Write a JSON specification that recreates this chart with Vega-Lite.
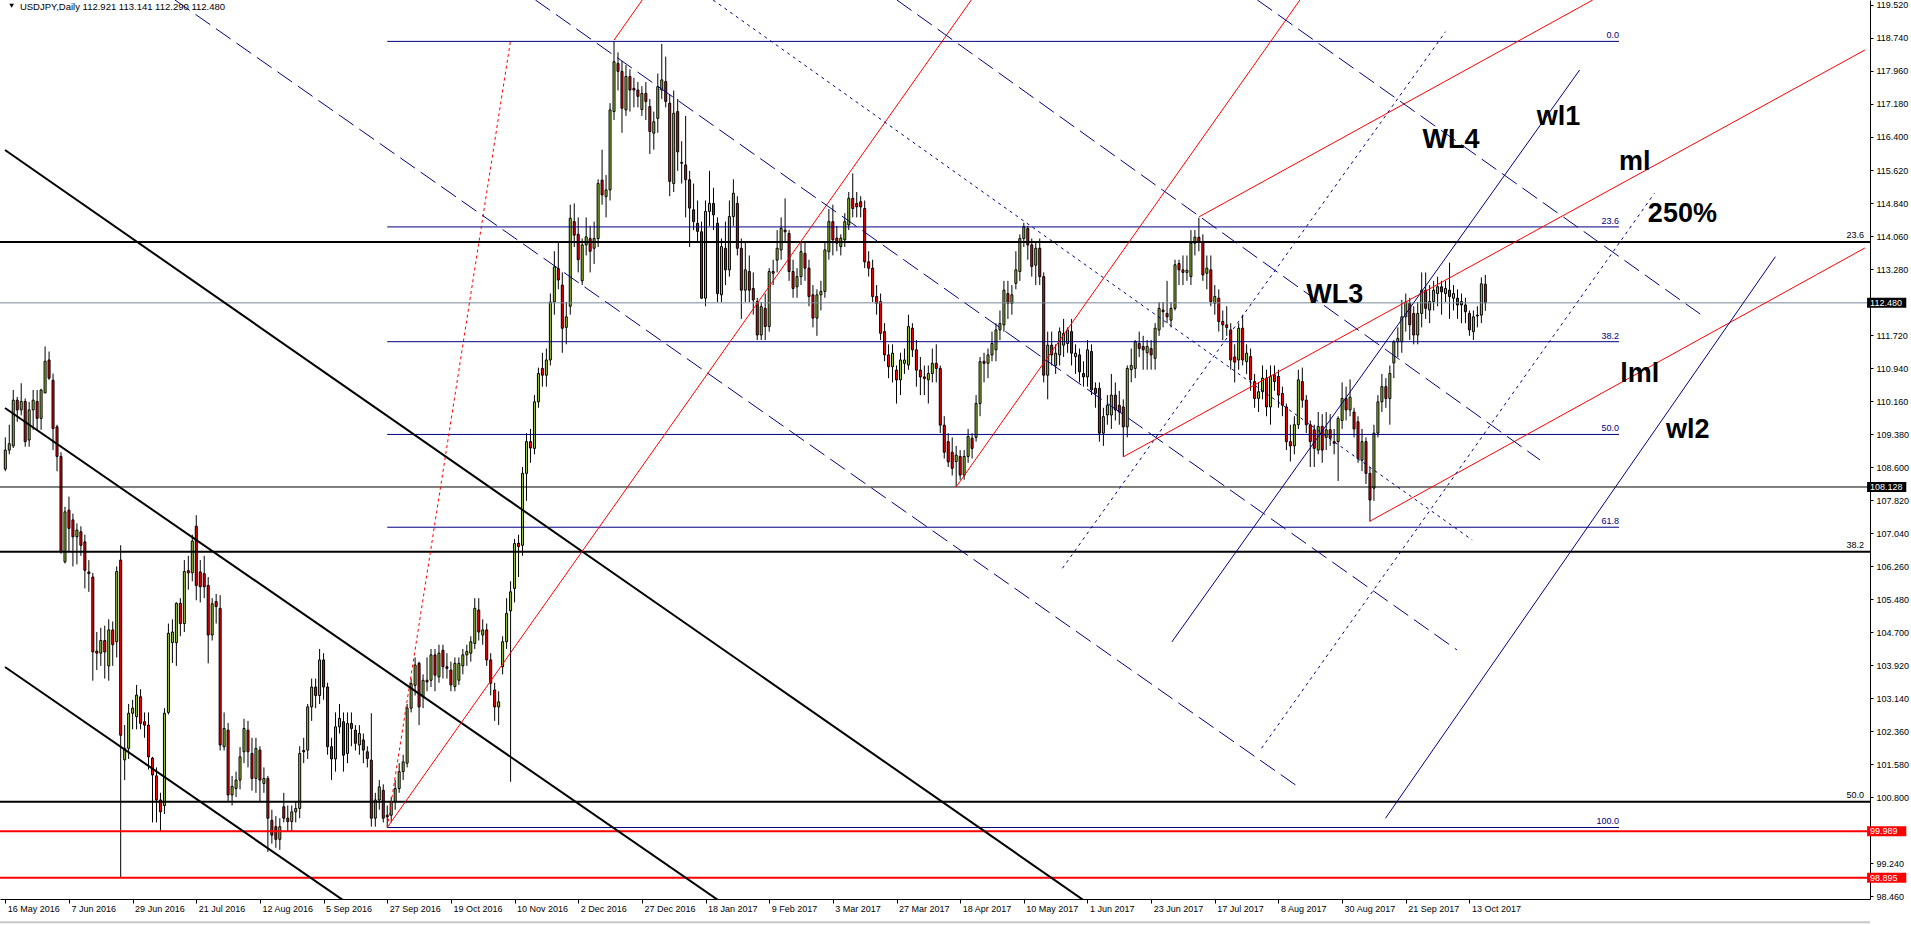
{
"$schema":"https://vega.github.io/schema/vega-lite/v6.json",
"width":1870,"height":899,
"autosize":{"type":"none"},
"padding":{"left":0,"top":0,"right":41,"bottom":26},
"background":"white",
"view":{"stroke":null},
"config":{"font":"Liberation Sans","axis":{"grid":false,"labelOverlap":false,"labelBound":false,"labelFlush":false}},
"datasets":{
"candles":[
{"i":0,"o":108.55,"h":109.3,"l":108.5,"c":109.0},
{"i":1,"o":109.0,"h":109.6,"l":108.9,"c":109.15},
{"i":2,"o":109.1,"h":110.42,"l":109.05,"c":110.18},
{"i":3,"o":110.18,"h":110.26,"l":109.67,"c":109.95},
{"i":4,"o":109.95,"h":110.58,"l":109.82,"c":110.15},
{"i":5,"o":110.15,"h":110.22,"l":109.08,"c":109.2},
{"i":6,"o":109.24,"h":110.14,"l":109.08,"c":109.95},
{"i":7,"o":109.95,"h":110.42,"l":109.48,"c":110.18},
{"i":8,"o":110.15,"h":110.42,"l":109.48,"c":109.75},
{"i":9,"o":109.75,"h":110.45,"l":109.48,"c":110.42},
{"i":10,"o":110.35,"h":111.45,"l":110.35,"c":111.1},
{"i":11,"o":111.13,"h":111.33,"l":110.66,"c":110.7},
{"i":12,"o":110.65,"h":110.81,"l":109.0,"c":109.51},
{"i":13,"o":109.55,"h":109.6,"l":108.5,"c":108.85},
{"i":14,"o":108.85,"h":108.95,"l":106.55,"c":106.6},
{"i":15,"o":106.36,"h":107.66,"l":106.32,"c":107.54},
{"i":16,"o":107.58,"h":107.9,"l":106.6,"c":107.15},
{"i":17,"o":107.35,"h":107.5,"l":106.25,"c":106.95},
{"i":18,"o":106.95,"h":107.27,"l":106.3,"c":107.11},
{"i":19,"o":107.07,"h":107.2,"l":106.5,"c":106.75},
{"i":20,"o":106.83,"h":107.0,"l":105.73,"c":106.16},
{"i":21,"o":106.12,"h":106.4,"l":105.65,"c":106.08},
{"i":22,"o":106.0,"h":106.1,"l":103.55,"c":104.23},
{"i":23,"o":104.25,"h":104.7,"l":103.8,"c":104.2},
{"i":24,"o":104.2,"h":104.8,"l":103.9,"c":104.5},
{"i":25,"o":104.5,"h":104.85,"l":103.6,"c":104.23},
{"i":26,"o":103.9,"h":105.0,"l":103.55,"c":104.75},
{"i":27,"o":104.75,"h":104.95,"l":103.9,"c":104.4},
{"i":28,"o":104.47,"h":106.25,"l":104.1,"c":106.13},
{"i":29,"o":106.4,"h":106.75,"l":98.9,"c":102.26},
{"i":30,"o":101.68,"h":102.5,"l":101.2,"c":101.95},
{"i":31,"o":101.95,"h":103.0,"l":101.7,"c":102.78},
{"i":32,"o":102.78,"h":103.1,"l":102.4,"c":102.9},
{"i":33,"o":102.7,"h":103.45,"l":102.4,"c":103.21},
{"i":34,"o":103.17,"h":103.35,"l":102.4,"c":102.54},
{"i":35,"o":102.58,"h":102.8,"l":102.2,"c":102.5},
{"i":36,"o":102.5,"h":102.8,"l":101.45,"c":101.75},
{"i":37,"o":101.72,"h":101.75,"l":100.2,"c":101.32},
{"i":38,"o":101.3,"h":101.5,"l":100.2,"c":100.73},
{"i":39,"o":100.73,"h":100.9,"l":99.98,"c":100.45},
{"i":40,"o":100.6,"h":102.9,"l":100.4,"c":102.78},
{"i":41,"o":102.8,"h":104.9,"l":102.75,"c":104.67},
{"i":42,"o":104.45,"h":105.0,"l":103.97,"c":104.7},
{"i":43,"o":104.45,"h":105.4,"l":103.9,"c":105.38},
{"i":44,"o":105.38,"h":105.5,"l":104.6,"c":104.9},
{"i":45,"o":104.9,"h":106.4,"l":104.7,"c":106.13},
{"i":46,"o":106.15,"h":106.5,"l":105.7,"c":106.1},
{"i":47,"o":106.1,"h":107.0,"l":105.9,"c":106.85},
{"i":48,"o":107.2,"h":107.46,"l":105.45,"c":105.8},
{"i":49,"o":106.12,"h":106.4,"l":105.4,"c":105.77},
{"i":50,"o":106.08,"h":106.5,"l":105.5,"c":105.77},
{"i":51,"o":105.8,"h":106.0,"l":103.96,"c":104.63},
{"i":52,"o":104.63,"h":105.5,"l":104.5,"c":105.37},
{"i":53,"o":105.42,"h":105.6,"l":104.9,"c":105.3},
{"i":54,"o":105.26,"h":105.57,"l":101.9,"c":102.03},
{"i":55,"o":101.99,"h":102.8,"l":101.9,"c":102.42},
{"i":56,"o":102.38,"h":102.55,"l":100.7,"c":100.85},
{"i":57,"o":100.85,"h":101.3,"l":100.6,"c":101.05},
{"i":58,"o":101.0,"h":101.4,"l":100.8,"c":101.2},
{"i":59,"o":101.2,"h":101.98,"l":100.98,"c":101.75},
{"i":60,"o":101.87,"h":102.65,"l":101.6,"c":102.42},
{"i":61,"o":102.38,"h":102.6,"l":101.5,"c":101.87},
{"i":62,"o":101.83,"h":102.2,"l":100.95,"c":101.24},
{"i":63,"o":101.24,"h":102.2,"l":100.9,"c":101.95},
{"i":64,"o":101.91,"h":102.0,"l":100.7,"c":101.2},
{"i":65,"o":101.12,"h":101.5,"l":100.9,"c":101.24},
{"i":66,"o":101.24,"h":101.3,"l":99.5,"c":100.3},
{"i":67,"o":100.25,"h":100.5,"l":99.7,"c":99.9},
{"i":68,"o":100.1,"h":100.35,"l":99.6,"c":99.8},
{"i":69,"o":99.8,"h":100.3,"l":99.55,"c":100.1},
{"i":70,"o":100.57,"h":100.9,"l":100.2,"c":100.3},
{"i":71,"o":100.3,"h":100.6,"l":100.0,"c":100.22},
{"i":72,"o":100.22,"h":100.6,"l":100.0,"c":100.45},
{"i":73,"o":100.45,"h":100.7,"l":100.2,"c":100.53},
{"i":74,"o":100.53,"h":102.0,"l":100.3,"c":101.83},
{"i":75,"o":101.9,"h":102.2,"l":101.6,"c":101.87},
{"i":76,"o":101.91,"h":103.0,"l":101.7,"c":102.93},
{"i":77,"o":102.93,"h":103.6,"l":102.6,"c":103.4},
{"i":78,"o":103.4,"h":103.6,"l":102.9,"c":103.2},
{"i":79,"o":103.2,"h":104.3,"l":103.0,"c":104.04},
{"i":80,"o":104.04,"h":104.2,"l":103.1,"c":103.4},
{"i":81,"o":103.4,"h":103.5,"l":101.8,"c":101.99},
{"i":82,"o":101.99,"h":102.2,"l":101.2,"c":101.7},
{"i":83,"o":101.7,"h":102.8,"l":101.4,"c":102.46},
{"i":84,"o":102.46,"h":103.0,"l":102.3,"c":102.66},
{"i":85,"o":102.58,"h":102.8,"l":101.4,"c":101.79},
{"i":86,"o":101.83,"h":102.8,"l":101.6,"c":102.54},
{"i":87,"o":102.54,"h":102.8,"l":102.0,"c":102.42},
{"i":88,"o":102.38,"h":102.5,"l":101.9,"c":102.07},
{"i":89,"o":102.03,"h":102.5,"l":101.8,"c":102.3},
{"i":90,"o":102.15,"h":102.3,"l":101.6,"c":101.91},
{"i":91,"o":101.87,"h":102.0,"l":101.5,"c":101.71},
{"i":92,"o":101.67,"h":102.78,"l":100.1,"c":100.3},
{"i":93,"o":100.3,"h":100.9,"l":100.1,"c":100.73},
{"i":94,"o":100.73,"h":101.2,"l":100.5,"c":101.04},
{"i":95,"o":100.96,"h":101.1,"l":100.2,"c":100.3},
{"i":96,"o":100.37,"h":100.6,"l":100.08,"c":100.33},
{"i":97,"o":100.37,"h":100.8,"l":100.2,"c":100.69},
{"i":98,"o":100.69,"h":101.2,"l":100.5,"c":101.0},
{"i":99,"o":101.0,"h":101.6,"l":100.9,"c":101.4},
{"i":100,"o":101.4,"h":101.8,"l":101.2,"c":101.63},
{"i":101,"o":101.6,"h":103.0,"l":101.5,"c":102.9},
{"i":102,"o":102.9,"h":103.6,"l":102.8,"c":103.48},
{"i":103,"o":103.44,"h":104.1,"l":103.2,"c":103.92},
{"i":104,"o":103.96,"h":104.0,"l":102.5,"c":102.93},
{"i":105,"o":103.17,"h":103.7,"l":102.9,"c":103.56},
{"i":106,"o":103.56,"h":104.1,"l":103.3,"c":103.52},
{"i":107,"o":103.56,"h":104.3,"l":103.4,"c":104.16},
{"i":108,"o":104.16,"h":104.3,"l":103.3,"c":103.68},
{"i":109,"o":103.64,"h":104.4,"l":103.5,"c":104.2},
{"i":110,"o":104.27,"h":104.4,"l":103.6,"c":103.88},
{"i":111,"o":103.88,"h":104.2,"l":103.6,"c":103.84},
{"i":112,"o":103.8,"h":104.0,"l":103.3,"c":103.45},
{"i":113,"o":103.41,"h":104.1,"l":103.3,"c":103.96},
{"i":114,"o":103.56,"h":104.1,"l":103.45,"c":103.96},
{"i":115,"o":103.9,"h":104.3,"l":103.7,"c":104.16},
{"i":116,"o":104.16,"h":104.4,"l":103.9,"c":104.24},
{"i":117,"o":104.2,"h":104.6,"l":104.0,"c":104.47},
{"i":118,"o":104.43,"h":105.5,"l":104.3,"c":105.26},
{"i":119,"o":105.22,"h":105.5,"l":104.5,"c":104.7},
{"i":120,"o":104.63,"h":105.0,"l":104.4,"c":104.75},
{"i":121,"o":104.75,"h":104.9,"l":103.9,"c":104.04},
{"i":122,"o":104.04,"h":104.2,"l":103.2,"c":103.49},
{"i":123,"o":103.33,"h":103.5,"l":102.6,"c":102.93},
{"i":124,"o":102.93,"h":103.3,"l":102.5,"c":103.05},
{"i":125,"o":103.88,"h":104.6,"l":103.7,"c":104.47},
{"i":126,"o":104.47,"h":105.5,"l":104.3,"c":105.14},
{"i":127,"o":105.2,"h":105.9,"l":101.16,"c":105.65},
{"i":128,"o":105.73,"h":106.9,"l":105.4,"c":106.79},
{"i":129,"o":106.8,"h":107.0,"l":106.0,"c":106.72},
{"i":130,"o":106.75,"h":108.6,"l":106.5,"c":108.45},
{"i":131,"o":108.45,"h":109.4,"l":107.8,"c":109.2},
{"i":132,"o":109.2,"h":109.5,"l":108.7,"c":109.05},
{"i":133,"o":109.04,"h":110.3,"l":108.9,"c":110.14},
{"i":134,"o":110.14,"h":110.95,"l":110.0,"c":110.81},
{"i":135,"o":110.93,"h":111.3,"l":110.5,"c":110.77},
{"i":136,"o":110.77,"h":111.4,"l":110.5,"c":111.13},
{"i":137,"o":111.13,"h":112.7,"l":111.0,"c":112.5},
{"i":138,"o":112.5,"h":113.7,"l":112.2,"c":113.33},
{"i":139,"o":113.29,"h":113.9,"l":112.8,"c":113.02},
{"i":140,"o":112.9,"h":113.2,"l":111.3,"c":111.88},
{"i":141,"o":111.9,"h":112.5,"l":111.5,"c":112.15},
{"i":142,"o":112.4,"h":114.8,"l":112.2,"c":114.48},
{"i":143,"o":114.4,"h":114.83,"l":113.8,"c":114.08},
{"i":144,"o":114.1,"h":114.5,"l":113.2,"c":113.5},
{"i":145,"o":113.0,"h":114.0,"l":112.9,"c":113.85},
{"i":146,"o":113.85,"h":114.5,"l":113.6,"c":114.04},
{"i":147,"o":114.0,"h":114.3,"l":113.2,"c":113.7},
{"i":148,"o":113.77,"h":114.4,"l":113.4,"c":114.0},
{"i":149,"o":114.0,"h":115.4,"l":113.8,"c":115.3},
{"i":150,"o":115.38,"h":116.1,"l":114.8,"c":115.03},
{"i":151,"o":114.99,"h":115.5,"l":114.5,"c":115.15},
{"i":152,"o":115.15,"h":117.2,"l":114.9,"c":117.04},
{"i":153,"o":117.0,"h":118.66,"l":116.8,"c":118.18},
{"i":154,"o":118.14,"h":118.4,"l":117.5,"c":117.95},
{"i":155,"o":117.95,"h":118.2,"l":116.5,"c":117.08},
{"i":156,"o":117.04,"h":118.1,"l":116.9,"c":117.83},
{"i":157,"o":117.83,"h":118.0,"l":117.0,"c":117.51},
{"i":158,"o":117.55,"h":117.8,"l":117.1,"c":117.51},
{"i":159,"o":117.51,"h":117.7,"l":117.1,"c":117.36},
{"i":160,"o":117.05,"h":117.6,"l":116.9,"c":117.43},
{"i":161,"o":117.43,"h":117.7,"l":116.8,"c":117.24},
{"i":162,"o":117.12,"h":117.3,"l":116.0,"c":116.53},
{"i":163,"o":116.49,"h":117.0,"l":116.1,"c":116.76},
{"i":164,"o":116.84,"h":117.9,"l":116.5,"c":117.59},
{"i":165,"o":117.51,"h":118.6,"l":117.3,"c":117.75},
{"i":166,"o":117.71,"h":118.3,"l":117.1,"c":117.24},
{"i":167,"o":117.2,"h":117.4,"l":115.0,"c":115.35},
{"i":168,"o":115.3,"h":117.5,"l":115.1,"c":116.96},
{"i":169,"o":117.0,"h":117.3,"l":115.6,"c":116.05},
{"i":170,"o":115.8,"h":116.3,"l":115.3,"c":115.78},
{"i":171,"o":115.74,"h":116.9,"l":114.5,"c":115.39},
{"i":172,"o":115.39,"h":115.6,"l":113.8,"c":114.72},
{"i":173,"o":114.68,"h":115.3,"l":114.2,"c":114.4},
{"i":174,"o":114.36,"h":114.9,"l":113.9,"c":114.17},
{"i":175,"o":114.16,"h":114.4,"l":112.57,"c":112.59},
{"i":176,"o":112.59,"h":114.9,"l":112.4,"c":114.64},
{"i":177,"o":114.64,"h":115.6,"l":114.3,"c":114.83},
{"i":178,"o":114.83,"h":115.2,"l":114.2,"c":114.56},
{"i":179,"o":114.36,"h":114.5,"l":112.5,"c":112.7},
{"i":180,"o":112.67,"h":114.0,"l":112.5,"c":113.81},
{"i":181,"o":113.77,"h":114.4,"l":112.9,"c":113.26},
{"i":182,"o":113.26,"h":114.9,"l":113.1,"c":114.52},
{"i":183,"o":114.52,"h":115.4,"l":114.3,"c":115.07},
{"i":184,"o":114.83,"h":115.0,"l":113.6,"c":113.77},
{"i":185,"o":113.77,"h":114.0,"l":112.1,"c":112.78},
{"i":186,"o":112.78,"h":113.9,"l":112.5,"c":113.26},
{"i":187,"o":113.22,"h":113.6,"l":112.5,"c":112.78},
{"i":188,"o":112.82,"h":113.2,"l":112.2,"c":112.55},
{"i":189,"o":112.51,"h":112.6,"l":111.6,"c":111.72},
{"i":190,"o":111.72,"h":112.5,"l":111.6,"c":112.39},
{"i":191,"o":112.35,"h":112.7,"l":111.6,"c":111.92},
{"i":192,"o":111.92,"h":113.3,"l":111.8,"c":113.22},
{"i":193,"o":113.22,"h":113.5,"l":112.9,"c":113.18},
{"i":194,"o":113.49,"h":114.2,"l":113.2,"c":113.77},
{"i":195,"o":113.73,"h":114.5,"l":113.5,"c":114.24},
{"i":196,"o":114.2,"h":114.95,"l":113.9,"c":114.16},
{"i":197,"o":114.12,"h":114.2,"l":113.0,"c":113.22},
{"i":198,"o":113.22,"h":113.5,"l":112.6,"c":112.82},
{"i":199,"o":112.86,"h":113.3,"l":112.6,"c":113.1},
{"i":200,"o":113.1,"h":113.9,"l":112.9,"c":113.69},
{"i":201,"o":113.65,"h":113.9,"l":113.0,"c":113.3},
{"i":202,"o":113.3,"h":113.5,"l":112.4,"c":112.63},
{"i":203,"o":112.67,"h":112.9,"l":111.9,"c":112.12},
{"i":204,"o":112.12,"h":112.8,"l":111.7,"c":112.67},
{"i":205,"o":112.67,"h":113.0,"l":112.3,"c":112.75},
{"i":206,"o":112.75,"h":113.9,"l":112.6,"c":113.73},
{"i":207,"o":113.69,"h":114.7,"l":113.5,"c":114.4},
{"i":208,"o":114.4,"h":114.8,"l":113.6,"c":113.97},
{"i":209,"o":114.01,"h":114.3,"l":113.7,"c":113.89},
{"i":210,"o":113.81,"h":114.1,"l":113.6,"c":114.01},
{"i":211,"o":113.97,"h":114.6,"l":113.8,"c":114.4},
{"i":212,"o":114.32,"h":115.1,"l":114.2,"c":114.95},
{"i":213,"o":114.95,"h":115.54,"l":114.5,"c":114.71},
{"i":214,"o":114.83,"h":115.1,"l":114.5,"c":114.75},
{"i":215,"o":114.87,"h":115.0,"l":114.5,"c":114.75},
{"i":216,"o":114.71,"h":114.9,"l":113.3,"c":113.45},
{"i":217,"o":113.45,"h":113.7,"l":113.1,"c":113.3},
{"i":218,"o":113.3,"h":113.5,"l":112.5,"c":112.63},
{"i":219,"o":112.63,"h":112.9,"l":112.2,"c":112.47},
{"i":220,"o":112.51,"h":112.7,"l":111.6,"c":111.76},
{"i":221,"o":111.8,"h":112.0,"l":111.1,"c":111.25},
{"i":222,"o":111.25,"h":111.5,"l":110.7,"c":110.97},
{"i":223,"o":110.97,"h":111.5,"l":110.6,"c":111.29},
{"i":224,"o":110.89,"h":111.0,"l":110.1,"c":110.66},
{"i":225,"o":110.66,"h":111.3,"l":110.3,"c":111.13},
{"i":226,"o":111.05,"h":111.4,"l":110.8,"c":111.13},
{"i":227,"o":111.01,"h":112.2,"l":110.9,"c":111.92},
{"i":228,"o":111.88,"h":112.0,"l":111.2,"c":111.37},
{"i":229,"o":111.37,"h":111.6,"l":110.5,"c":110.89},
{"i":230,"o":110.89,"h":111.2,"l":110.3,"c":110.73},
{"i":231,"o":110.73,"h":111.0,"l":110.3,"c":110.69},
{"i":232,"o":110.66,"h":111.0,"l":110.1,"c":110.81},
{"i":233,"o":110.81,"h":111.4,"l":110.6,"c":111.05},
{"i":234,"o":111.05,"h":111.5,"l":110.6,"c":110.93},
{"i":235,"o":110.93,"h":111.0,"l":109.4,"c":109.59},
{"i":236,"o":109.59,"h":109.8,"l":108.8,"c":108.95},
{"i":237,"o":109.2,"h":109.4,"l":108.6,"c":108.72},
{"i":238,"o":108.95,"h":109.3,"l":108.4,"c":108.57},
{"i":239,"o":108.73,"h":109.1,"l":108.13,"c":108.88},
{"i":240,"o":108.85,"h":109.0,"l":108.3,"c":108.41},
{"i":241,"o":108.41,"h":109.0,"l":108.3,"c":108.85},
{"i":242,"o":108.85,"h":109.5,"l":108.7,"c":109.32},
{"i":243,"o":109.28,"h":109.4,"l":108.8,"c":109.04},
{"i":244,"o":109.3,"h":110.3,"l":109.2,"c":110.1},
{"i":245,"o":110.1,"h":111.2,"l":109.8,"c":111.09},
{"i":246,"o":111.1,"h":111.3,"l":110.6,"c":111.05},
{"i":247,"o":111.05,"h":111.4,"l":110.7,"c":111.25},
{"i":248,"o":111.25,"h":111.8,"l":111.1,"c":111.52},
{"i":249,"o":111.37,"h":112.0,"l":111.1,"c":111.84},
{"i":250,"o":111.84,"h":112.3,"l":111.6,"c":111.99},
{"i":251,"o":111.96,"h":113.0,"l":111.8,"c":112.78},
{"i":252,"o":112.7,"h":113.0,"l":112.1,"c":112.47},
{"i":253,"o":112.47,"h":112.9,"l":112.2,"c":112.67},
{"i":254,"o":112.94,"h":113.7,"l":112.8,"c":113.26},
{"i":255,"o":113.22,"h":114.1,"l":113.0,"c":114.0},
{"i":256,"o":114.0,"h":114.37,"l":113.8,"c":114.28},
{"i":257,"o":114.24,"h":114.3,"l":113.5,"c":113.85},
{"i":258,"o":113.85,"h":114.0,"l":113.1,"c":113.34},
{"i":259,"o":113.37,"h":113.9,"l":112.9,"c":113.77},
{"i":260,"o":113.77,"h":114.0,"l":112.9,"c":113.1},
{"i":261,"o":113.1,"h":113.2,"l":110.6,"c":110.77},
{"i":262,"o":110.77,"h":111.8,"l":110.2,"c":111.48},
{"i":263,"o":111.48,"h":111.8,"l":111.0,"c":111.25},
{"i":264,"o":111.0,"h":111.5,"l":110.8,"c":111.29},
{"i":265,"o":111.25,"h":111.9,"l":111.0,"c":111.8},
{"i":266,"o":111.48,"h":112.1,"l":111.2,"c":111.76},
{"i":267,"o":111.52,"h":111.9,"l":111.3,"c":111.84},
{"i":268,"o":111.8,"h":112.1,"l":111.0,"c":111.29},
{"i":269,"o":111.21,"h":111.5,"l":110.8,"c":111.29},
{"i":270,"o":111.25,"h":111.4,"l":110.6,"c":110.85},
{"i":271,"o":110.81,"h":111.1,"l":110.5,"c":110.73},
{"i":272,"o":110.73,"h":111.6,"l":110.5,"c":111.37},
{"i":273,"o":111.33,"h":111.5,"l":110.3,"c":110.42},
{"i":274,"o":110.46,"h":110.6,"l":110.0,"c":110.34},
{"i":275,"o":110.46,"h":110.6,"l":109.2,"c":109.4},
{"i":276,"o":109.4,"h":110.0,"l":109.1,"c":109.79},
{"i":277,"o":109.83,"h":110.3,"l":109.6,"c":110.06},
{"i":278,"o":109.83,"h":110.8,"l":109.5,"c":110.3},
{"i":279,"o":110.3,"h":110.6,"l":109.7,"c":109.95},
{"i":280,"o":110.06,"h":110.4,"l":109.6,"c":109.9},
{"i":281,"o":110.02,"h":110.2,"l":108.84,"c":109.55},
{"i":282,"o":109.55,"h":111.0,"l":109.3,"c":110.93},
{"i":283,"o":110.9,"h":111.4,"l":110.6,"c":111.0},
{"i":284,"o":110.93,"h":111.6,"l":110.7,"c":111.56},
{"i":285,"o":111.52,"h":111.8,"l":111.2,"c":111.4},
{"i":286,"o":111.45,"h":111.7,"l":110.9,"c":111.37},
{"i":287,"o":111.3,"h":111.6,"l":110.9,"c":111.45},
{"i":288,"o":111.4,"h":111.6,"l":110.9,"c":111.25},
{"i":289,"o":111.17,"h":112.0,"l":110.9,"c":111.88},
{"i":290,"o":111.84,"h":112.5,"l":111.7,"c":112.35},
{"i":291,"o":112.31,"h":112.5,"l":111.9,"c":112.27},
{"i":292,"o":112.23,"h":113.0,"l":112.0,"c":112.15},
{"i":293,"o":112.07,"h":112.5,"l":111.9,"c":112.35},
{"i":294,"o":112.35,"h":113.5,"l":112.3,"c":113.38},
{"i":295,"o":113.41,"h":113.5,"l":112.9,"c":113.26},
{"i":296,"o":113.26,"h":113.6,"l":112.9,"c":113.2},
{"i":297,"o":113.2,"h":113.6,"l":113.0,"c":113.25},
{"i":298,"o":113.1,"h":114.2,"l":112.9,"c":113.89},
{"i":299,"o":113.89,"h":114.2,"l":113.6,"c":114.03},
{"i":300,"o":114.03,"h":114.49,"l":113.7,"c":113.93},
{"i":301,"o":113.93,"h":114.1,"l":113.0,"c":113.14},
{"i":302,"o":113.18,"h":113.6,"l":112.8,"c":113.3},
{"i":303,"o":113.26,"h":113.6,"l":112.4,"c":112.51},
{"i":304,"o":112.47,"h":112.9,"l":112.2,"c":112.63},
{"i":305,"o":112.59,"h":112.8,"l":111.8,"c":112.04},
{"i":306,"o":112.04,"h":112.3,"l":111.6,"c":111.96},
{"i":307,"o":111.96,"h":112.4,"l":111.7,"c":111.9},
{"i":308,"o":111.84,"h":112.0,"l":110.9,"c":111.13},
{"i":309,"o":111.2,"h":111.5,"l":110.6,"c":111.08},
{"i":310,"o":111.13,"h":112.0,"l":110.9,"c":111.88},
{"i":311,"o":111.88,"h":112.2,"l":111.0,"c":111.13},
{"i":312,"o":111.09,"h":111.5,"l":110.8,"c":111.29},
{"i":313,"o":111.21,"h":111.4,"l":110.4,"c":110.66},
{"i":314,"o":110.62,"h":110.8,"l":110.0,"c":110.22},
{"i":315,"o":110.22,"h":110.6,"l":109.9,"c":110.38},
{"i":316,"o":110.38,"h":111.0,"l":110.2,"c":110.7},
{"i":317,"o":110.7,"h":110.9,"l":109.8,"c":110.02},
{"i":318,"o":110.02,"h":111.0,"l":109.6,"c":110.74},
{"i":319,"o":110.78,"h":111.0,"l":110.4,"c":110.62},
{"i":320,"o":110.74,"h":110.9,"l":110.0,"c":110.3},
{"i":321,"o":110.34,"h":110.5,"l":109.8,"c":110.06},
{"i":322,"o":110.02,"h":110.1,"l":109.0,"c":109.2},
{"i":323,"o":109.2,"h":109.6,"l":108.73,"c":109.1},
{"i":324,"o":109.1,"h":109.8,"l":108.9,"c":109.6},
{"i":325,"o":109.6,"h":110.9,"l":109.5,"c":110.66},
{"i":326,"o":110.62,"h":110.95,"l":110.0,"c":110.18},
{"i":327,"o":110.18,"h":110.3,"l":109.4,"c":109.6},
{"i":328,"o":109.6,"h":109.7,"l":108.6,"c":109.2},
{"i":329,"o":109.48,"h":109.6,"l":108.6,"c":109.04},
{"i":330,"o":109.0,"h":109.9,"l":108.9,"c":109.56},
{"i":331,"o":109.56,"h":109.85,"l":108.7,"c":109.0},
{"i":332,"o":109.3,"h":109.9,"l":109.0,"c":109.48},
{"i":333,"o":109.48,"h":109.85,"l":109.1,"c":109.28},
{"i":334,"o":109.2,"h":109.5,"l":108.9,"c":109.16},
{"i":335,"o":109.2,"h":109.8,"l":108.27,"c":109.75},
{"i":336,"o":109.7,"h":110.6,"l":109.5,"c":110.22},
{"i":337,"o":110.22,"h":110.5,"l":109.7,"c":109.95},
{"i":338,"o":109.95,"h":110.67,"l":109.8,"c":110.25},
{"i":339,"o":109.9,"h":110.0,"l":109.3,"c":109.5},
{"i":340,"o":109.67,"h":109.8,"l":108.7,"c":108.8},
{"i":341,"o":108.76,"h":109.5,"l":108.5,"c":109.2},
{"i":342,"o":109.2,"h":109.3,"l":108.2,"c":108.45},
{"i":343,"o":108.45,"h":108.6,"l":107.31,"c":107.82},
{"i":344,"o":108.1,"h":109.6,"l":107.8,"c":109.4},
{"i":345,"o":109.4,"h":110.3,"l":109.3,"c":110.14},
{"i":346,"o":110.14,"h":110.8,"l":109.9,"c":110.5},
{"i":347,"o":110.5,"h":110.7,"l":110.0,"c":110.22},
{"i":348,"o":110.22,"h":111.0,"l":109.6,"c":110.81},
{"i":349,"o":111.06,"h":111.6,"l":110.7,"c":111.56},
{"i":350,"o":111.56,"h":111.9,"l":111.2,"c":111.64},
{"i":351,"o":111.56,"h":112.55,"l":111.3,"c":112.15},
{"i":352,"o":112.15,"h":112.7,"l":111.8,"c":112.5},
{"i":353,"o":112.47,"h":112.6,"l":111.6,"c":111.96},
{"i":354,"o":112.23,"h":112.4,"l":111.5,"c":111.72},
{"i":355,"o":111.72,"h":112.5,"l":111.5,"c":112.23},
{"i":356,"o":112.23,"h":113.2,"l":111.9,"c":112.78},
{"i":357,"o":112.78,"h":113.2,"l":112.1,"c":112.35},
{"i":358,"o":112.31,"h":112.9,"l":112.0,"c":112.51},
{"i":359,"o":112.51,"h":113.0,"l":112.3,"c":112.78},
{"i":360,"o":112.7,"h":113.1,"l":112.4,"c":112.86},
{"i":361,"o":112.86,"h":113.0,"l":112.2,"c":112.74},
{"i":362,"o":112.7,"h":113.0,"l":112.5,"c":112.82},
{"i":363,"o":112.78,"h":113.43,"l":112.1,"c":112.63},
{"i":364,"o":112.59,"h":112.9,"l":112.3,"c":112.7},
{"i":365,"o":112.59,"h":112.8,"l":112.1,"c":112.43},
{"i":366,"o":112.51,"h":112.7,"l":112.0,"c":112.43},
{"i":367,"o":112.43,"h":112.6,"l":112.0,"c":112.27},
{"i":368,"o":112.23,"h":112.3,"l":111.7,"c":111.84},
{"i":369,"o":111.8,"h":112.3,"l":111.6,"c":112.15},
{"i":370,"o":112.19,"h":112.4,"l":111.9,"c":112.17},
{"i":371,"o":112.19,"h":113.08,"l":112.0,"c":112.93},
{"i":372,"o":112.921,"h":113.141,"l":112.29,"c":112.48}
],
"tags":[
{"k":"bid","p":112.48,"t":"112.480"},
{"k":"line","p":108.128,"t":"108.128"},
{"k":"red","p":99.989,"t":"99.989"},
{"k":"red","p":98.895,"t":"98.895"}
],
"major":[
{"lvl":"23.6","p":113.918},
{"lvl":"38.2","p":106.599},
{"lvl":"50.0","p":100.69}
],
"fib":[
{"lvl":"0.0","p":118.66,"i1":96.0,"i2":405.6},
{"lvl":"23.6","p":114.275,"i1":96.0,"i2":405.6},
{"lvl":"38.2","p":111.562,"i1":96.0,"i2":405.6},
{"lvl":"50.0","p":109.37,"i1":96.0,"i2":405.6},
{"lvl":"61.8","p":107.177,"i1":96.0,"i2":405.6},
{"lvl":"100.0","p":100.08,"i1":96.0,"i2":405.6}
],
"seg":[
{"k":"chan","i1":-0.075,"p1":116.093,"i2":272.4,"p2":98.272},
{"k":"chan","i1":-0.075,"p1":109.995,"i2":182.4,"p2":98.154},
{"k":"chan","i1":-0.075,"p1":103.874,"i2":87.4,"p2":98.201},
{"k":"fibdiag","i1":96.0,"p1":100.08,"i2":126.95,"p2":118.66},
{"k":"red","i1":96.0,"p1":100.08,"i2":242.8,"p2":119.638},
{"k":"red","i1":153.0,"p1":118.69,"i2":160.1,"p2":119.638},
{"k":"red","i1":239.0,"p1":108.13,"i2":325.4,"p2":119.638},
{"k":"red","i1":300.0,"p1":114.51,"i2":399.0,"p2":119.638},
{"k":"red","i1":281.0,"p1":108.84,"i2":467.4,"p2":118.456},
{"k":"red","i1":343.0,"p1":107.32,"i2":467.4,"p2":113.777},
{"k":"wl","i1":293.2,"p1":104.465,"i2":395.7,"p2":117.984},
{"k":"wl","i1":346.9,"p1":100.298,"i2":444.9,"p2":113.571},
{"k":"dot","i1":265.7,"p1":106.206,"i2":362.0,"p2":118.889},
{"k":"dot","i1":315.75,"p1":101.952,"i2":414.5,"p2":115.07},
{"k":"dot","i1":177.9,"p1":119.638,"i2":368.7,"p2":106.875},
{"k":"dash","i1":42.65,"p1":119.638,"i2":324.9,"p2":101.045},
{"k":"dash","i1":133.25,"p1":119.638,"i2":364.9,"p2":104.275},
{"k":"dash","i1":224.1,"p1":119.638,"i2":385.75,"p2":108.766},
{"k":"dash","i1":314.7,"p1":119.638,"i2":427.4,"p2":112.122}
],
"notes":[
{"t":"WL4","i":356.2,"p":116.14},
{"t":"WL3","i":327.0,"p":112.477},
{"t":"wl1","i":384.9,"p":116.684},
{"t":"ml","i":405.6,"p":115.62},
{"t":"250%","i":412.85,"p":114.398},
{"t":"lml","i":405.9,"p":110.617},
{"t":"wl2","i":417.4,"p":109.279}
],
"head":[
{"t":"USDJPY,Daily  112.921 113.141 112.290 112.480","i":3.675,"p":119.40,"mi":1.6,"mp":119.50}
],
"frame":[
{"p":97.84}
]
},
"layer":[
{"data":{"name":"candles"},
 "mark":{"type":"rule","color":"black","strokeWidth":1},
 "encoding":{
  "x":{"field":"i","type":"quantitative","scale":{"domain":[-0.075,467.425],"nice":false,"zero":false},
   "axis":{"orient":"bottom","title":null,"grid":false,"tickCount":100,"values":[0,16,32,48,64,80,96,112,128,144,160,176,192,208,224,240,256,272,288,304,320,336,352,368],
    "labelExpr":"['16 May 2016','7 Jun 2016','29 Jun 2016','21 Jul 2016','12 Aug 2016','5 Sep 2016','27 Sep 2016','19 Oct 2016','10 Nov 2016','2 Dec 2016','27 Dec 2016','18 Jan 2017','9 Feb 2017','3 Mar 2017','27 Mar 2017','18 Apr 2017','10 May 2017','1 Jun 2017','23 Jun 2017','17 Jul 2017','8 Aug 2017','30 Aug 2017','21 Sep 2017','13 Oct 2017'][round(datum.value/16)]",
    "labelAlign":"left","labelBaseline":"top","labelOffset":2,"labelPadding":1,"tickSize":4,"tickColor":"black","domainColor":"black","labelColor":"black","labelFont":"Liberation Sans","labelFontSize":9,"labelOverlap":false,"labelBound":false,"labelFlush":false}},
  "y":{"field":"l","type":"quantitative","scale":{"domain":[98.39,119.638],"nice":false,"zero":false},
   "axis":{"orient":"right","title":null,"grid":false,"tickCount":100,"values":[119.52,118.74,117.96,117.18,116.4,115.62,114.84,114.06,113.28,111.72,110.94,110.16,109.38,108.6,107.82,107.04,106.26,105.48,104.7,103.92,103.14,102.36,101.58,100.8,99.24,98.46],
    "format":".3f","tickSize":3,"labelPadding":3,"tickColor":"black","domainColor":"black","labelColor":"black","labelFont":"Liberation Sans","labelFontSize":9,"labelOverlap":false,"labelBound":false,"labelFlush":false,"labelBaseline":"middle"}},
  "y2":{"field":"h"}}},
{"data":{"name":"candles"},
 "mark":{"type":"bar","size":2,"stroke":"black","strokeWidth":1},
 "encoding":{
  "x":{"field":"i","type":"quantitative","scale":{"domain":[-0.075,467.425],"nice":false,"zero":false}},
  "y":{"field":"o","type":"quantitative","scale":{"domain":[98.39,119.638],"nice":false,"zero":false}},
  "y2":{"field":"c"},
  "fill":{"condition":{"test":"datum.c >= datum.o","value":"#9ACD32"},"value":"#FF0000"}}},
{"data":{"name":"fib"},
 "mark":{"type":"rule","color":"#000080","strokeWidth":1},
 "encoding":{
  "x":{"field":"i1","type":"quantitative","scale":{"domain":[-0.075,467.425],"nice":false,"zero":false}},
  "x2":{"field":"i2"},
  "y":{"field":"p","type":"quantitative","scale":{"domain":[98.39,119.638],"nice":false,"zero":false}}}},
{"data":{"name":"fib"},
 "mark":{"type":"text","color":"#000080","fontSize":9,"align":"right","baseline":"bottom","dy":-1,"font":"Liberation Sans"},
 "encoding":{
  "x":{"field":"i2","type":"quantitative","scale":{"domain":[-0.075,467.425],"nice":false,"zero":false}},
  "y":{"field":"p","type":"quantitative","scale":{"domain":[98.39,119.638],"nice":false,"zero":false}},
  "text":{"field":"lvl"}}},
{"data":{"name":"tags"},
 "transform":[{"filter":"datum.k == 'bid'"}],
 "mark":{"type":"rule","color":"#778899","strokeWidth":1},
 "encoding":{"y":{"field":"p","type":"quantitative","scale":{"domain":[98.39,119.638],"nice":false,"zero":false}}}},
{"data":{"name":"tags"},
 "transform":[{"filter":"datum.k == 'line'"}],
 "mark":{"type":"rule","color":"black","strokeWidth":1},
 "encoding":{"y":{"field":"p","type":"quantitative","scale":{"domain":[98.39,119.638],"nice":false,"zero":false}}}},
{"data":{"name":"tags"},
 "transform":[{"filter":"datum.k == 'red'"}],
 "mark":{"type":"rule","color":"#FF0000","strokeWidth":2},
 "encoding":{"y":{"field":"p","type":"quantitative","scale":{"domain":[98.39,119.638],"nice":false,"zero":false}}}},
{"data":{"name":"major"},
 "mark":{"type":"rule","color":"black","strokeWidth":2},
 "encoding":{"y":{"field":"p","type":"quantitative","scale":{"domain":[98.39,119.638],"nice":false,"zero":false}}}},
{"data":{"name":"frame"},
 "mark":{"type":"rule","color":"#C8C8C8","strokeWidth":2},
 "encoding":{"y":{"field":"p","type":"quantitative","scale":{"domain":[98.39,119.638],"nice":false,"zero":false}}}},
{"data":{"name":"major"},
 "mark":{"type":"text","color":"black","fontSize":9,"align":"right","baseline":"bottom","dy":-2,"dx":-1,"font":"Liberation Sans"},
 "encoding":{
  "x":{"datum":467.425,"type":"quantitative","scale":{"domain":[-0.075,467.425],"nice":false,"zero":false}},
  "y":{"field":"p","type":"quantitative","scale":{"domain":[98.39,119.638],"nice":false,"zero":false}},
  "text":{"field":"lvl"}}},
{"data":{"name":"seg"},
 "transform":[{"filter":"datum.k == 'chan'"}],
 "mark":{"type":"rule","color":"black","strokeWidth":2,"clip":true},
 "encoding":{
  "x":{"field":"i1","type":"quantitative","scale":{"domain":[-0.075,467.425],"nice":false,"zero":false}},
  "x2":{"field":"i2"},
  "y":{"field":"p1","type":"quantitative","scale":{"domain":[98.39,119.638],"nice":false,"zero":false}},
  "y2":{"field":"p2"}}},
{"data":{"name":"seg"},
 "transform":[{"filter":"datum.k == 'fibdiag'"}],
 "mark":{"type":"rule","color":"#FF0000","strokeWidth":1,"strokeDash":[3,3],"clip":true},
 "encoding":{
  "x":{"field":"i1","type":"quantitative","scale":{"domain":[-0.075,467.425],"nice":false,"zero":false}},
  "x2":{"field":"i2"},
  "y":{"field":"p1","type":"quantitative","scale":{"domain":[98.39,119.638],"nice":false,"zero":false}},
  "y2":{"field":"p2"}}},
{"data":{"name":"seg"},
 "transform":[{"filter":"datum.k == 'red'"}],
 "mark":{"type":"rule","color":"#FF0000","strokeWidth":1,"clip":true},
 "encoding":{
  "x":{"field":"i1","type":"quantitative","scale":{"domain":[-0.075,467.425],"nice":false,"zero":false}},
  "x2":{"field":"i2"},
  "y":{"field":"p1","type":"quantitative","scale":{"domain":[98.39,119.638],"nice":false,"zero":false}},
  "y2":{"field":"p2"}}},
{"data":{"name":"seg"},
 "transform":[{"filter":"datum.k == 'wl'"}],
 "mark":{"type":"rule","color":"#000080","strokeWidth":1,"clip":true},
 "encoding":{
  "x":{"field":"i1","type":"quantitative","scale":{"domain":[-0.075,467.425],"nice":false,"zero":false}},
  "x2":{"field":"i2"},
  "y":{"field":"p1","type":"quantitative","scale":{"domain":[98.39,119.638],"nice":false,"zero":false}},
  "y2":{"field":"p2"}}},
{"data":{"name":"seg"},
 "transform":[{"filter":"datum.k == 'dot'"}],
 "mark":{"type":"rule","color":"#000080","strokeWidth":1,"strokeDash":[3,4],"clip":true},
 "encoding":{
  "x":{"field":"i1","type":"quantitative","scale":{"domain":[-0.075,467.425],"nice":false,"zero":false}},
  "x2":{"field":"i2"},
  "y":{"field":"p1","type":"quantitative","scale":{"domain":[98.39,119.638],"nice":false,"zero":false}},
  "y2":{"field":"p2"}}},
{"data":{"name":"seg"},
 "transform":[{"filter":"datum.k == 'dash'"}],
 "mark":{"type":"rule","color":"#000080","strokeWidth":1,"strokeDash":[18,7],"clip":true},
 "encoding":{
  "x":{"field":"i1","type":"quantitative","scale":{"domain":[-0.075,467.425],"nice":false,"zero":false}},
  "x2":{"field":"i2"},
  "y":{"field":"p1","type":"quantitative","scale":{"domain":[98.39,119.638],"nice":false,"zero":false}},
  "y2":{"field":"p2"}}},
{"data":{"name":"notes"},
 "mark":{"type":"text","color":"black","fontSize":27,"fontWeight":"bold","font":"Liberation Sans","align":"left","baseline":"alphabetic"},
 "encoding":{
  "x":{"field":"i","type":"quantitative","scale":{"domain":[-0.075,467.425],"nice":false,"zero":false}},
  "y":{"field":"p","type":"quantitative","scale":{"domain":[98.39,119.638],"nice":false,"zero":false}},
  "text":{"field":"t"}}},
{"data":{"name":"head"},
 "mark":{"type":"text","color":"black","fontSize":9.5,"font":"Liberation Sans","align":"left","baseline":"alphabetic"},
 "encoding":{
  "x":{"field":"i","type":"quantitative","scale":{"domain":[-0.075,467.425],"nice":false,"zero":false}},
  "y":{"field":"p","type":"quantitative","scale":{"domain":[98.39,119.638],"nice":false,"zero":false}},
  "text":{"field":"t"}}},
{"data":{"name":"head"},
 "mark":{"type":"point","shape":"triangle-down","filled":true,"color":"black","size":22,"opacity":1},
 "encoding":{
  "x":{"field":"mi","type":"quantitative","scale":{"domain":[-0.075,467.425],"nice":false,"zero":false}},
  "y":{"field":"mp","type":"quantitative","scale":{"domain":[98.39,119.638],"nice":false,"zero":false}}}},
{"data":{"name":"tags"},
 "mark":{"type":"rect","yOffset":-5,"y2Offset":5},
 "encoding":{
  "x":{"datum":467.95,"type":"quantitative","scale":{"domain":[-0.075,467.425],"nice":false,"zero":false}},
  "x2":{"datum":477.8},
  "y":{"field":"p","type":"quantitative","scale":{"domain":[98.39,119.638],"nice":false,"zero":false}},
  "y2":{"field":"p"},
  "fill":{"condition":{"test":"datum.k == 'red'","value":"#FF0000"},"value":"black"}}},
{"data":{"name":"tags"},
 "mark":{"type":"text","color":"white","fontSize":9,"font":"Liberation Sans","align":"left","baseline":"middle","dx":3},
 "encoding":{
  "x":{"datum":467.95,"type":"quantitative","scale":{"domain":[-0.075,467.425],"nice":false,"zero":false}},
  "y":{"field":"p","type":"quantitative","scale":{"domain":[98.39,119.638],"nice":false,"zero":false}},
  "text":{"field":"t"}}}
]
}
